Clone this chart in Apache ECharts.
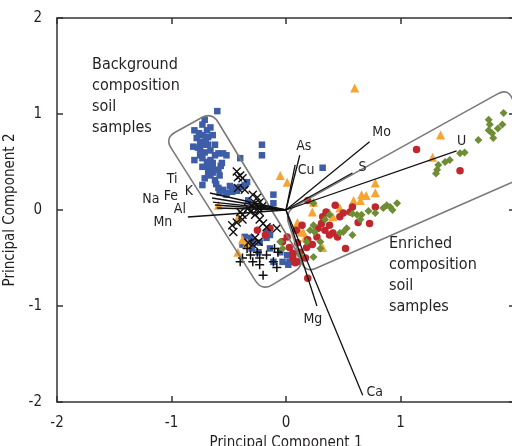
<!DOCTYPE html>
<html>
<head>
<meta charset="utf-8">
<script src="https://cdn.jsdelivr.net/npm/echarts@6/dist/echarts.min.js"></script>
<style>html,body{margin:0;padding:0;background:#fff}#c{width:512px;height:446px}</style>
</head>
<body>
<div id="c"></div>
<script>
// ---- data ----
const xTicks = [-2, -1, 0, 1, 2];
const yTicks = [-2, -1, 0, 1, 2];

const blueSquares = [
[-0.60,1.03],[-0.73,0.89],[-0.69,0.83],[-0.73,0.78],[-0.68,0.76],[-0.64,0.78],[-0.78,0.75],[-0.75,0.71],[-0.81,0.66],[-0.77,0.65],
[-0.73,0.68],[-0.68,0.68],[-0.59,0.59],[-0.55,0.59],[-0.52,0.57],[-0.75,0.57],[-0.73,0.54],[-0.69,0.50],[-0.66,0.52],[-0.64,0.49],
[-0.73,0.45],[-0.68,0.45],[-0.64,0.44],[-0.59,0.42],[-0.58,0.36],[-0.64,0.39],[-0.68,0.39],[-0.66,0.36],[-0.40,0.54],[-0.21,0.68],
[-0.21,0.57],[-0.73,0.26],[-0.59,0.23],[-0.55,0.21],[-0.52,0.18],[-0.47,0.19],[-0.45,0.23],[-0.40,0.24],[-0.36,0.26],[-0.34,0.29],
[-0.52,0.16],[-0.58,0.18],[-0.11,0.16],[-0.11,0.07],[-0.33,0.10],[-0.36,-0.28],[-0.31,-0.29],[-0.29,-0.33],[-0.23,-0.34],[-0.30,-0.40],
[-0.24,-0.44],[-0.17,-0.29],[-0.38,-0.36],[-0.05,-0.44],[0.01,-0.47],[0.03,-0.54],[-0.03,-0.54],[-0.11,-0.54],[-0.14,-0.40],[-0.17,-0.23],
[-0.14,-0.26],[0.02,-0.57],[0.32,0.44],[-0.80,0.83],[-0.71,0.94],[-0.66,0.86],[-0.62,0.68],[-0.75,0.63],[-0.62,0.57],[-0.80,0.52],
[-0.56,0.49],[-0.71,0.33],[-0.62,0.31],[-0.70,0.72],[-0.76,0.80],[-0.66,0.62],[-0.71,0.60],[-0.57,0.46],[-0.61,0.27],[-0.49,0.25],
[-0.43,0.20]
];
const orangeTriangles = [
[0.60,1.27],[-0.05,0.36],[0.01,0.29],[1.35,0.78],[1.28,0.55],[0.78,0.28],[0.78,0.18],[0.66,0.16],[0.70,0.15],[0.65,0.10],
[0.59,0.10],[0.24,0.08],[0.23,-0.02],[0.10,-0.13],[0.15,-0.23],[0.32,-0.39],[-0.38,-0.31],[-0.42,-0.44],[-0.34,-0.34],[-0.59,0.05],
[-0.42,-0.08],[0.12,-0.23],[0.17,-0.28],[0.38,-0.03],[0.41,-0.07],[0.47,0.02]
];
const redCircles = [
[1.14,0.63],[1.52,0.41],[0.78,0.03],[0.63,-0.13],[0.73,-0.14],[0.52,-0.40],[0.19,0.10],[0.19,-0.71],[0.47,-0.07],[0.50,-0.03],
[0.56,-0.02],[0.58,0.03],[0.32,-0.07],[0.28,-0.19],[0.31,-0.14],[0.34,-0.21],[0.38,-0.16],[0.38,-0.26],[0.41,-0.24],[0.45,-0.28],
[0.27,-0.28],[0.19,-0.31],[0.23,-0.36],[0.18,-0.39],[0.12,-0.44],[0.06,-0.45],[0.03,-0.39],[0.01,-0.28],[-0.03,-0.33],[0.10,-0.34],
[0.06,-0.50],[0.08,-0.55],[-0.25,-0.21],[-0.18,-0.26],[-0.14,-0.19],[0.35,-0.02],[0.43,0.05],[0.14,-0.16],[0.09,-0.21],[0.17,-0.50],
[0.10,-0.54]
];
const greenDiamonds = [
[1.52,0.59],[1.56,0.60],[1.43,0.52],[1.39,0.50],[1.33,0.47],[1.32,0.42],[1.31,0.38],[1.68,0.73],[1.77,0.94],[1.78,0.89],
[1.77,0.83],[1.80,0.80],[1.81,0.75],[1.85,0.85],[1.89,0.89],[1.90,1.01],[0.97,0.07],[0.91,0.03],[0.88,0.05],[0.93,0.00],
[0.85,0.02],[0.72,-0.01],[0.66,-0.05],[0.62,-0.05],[0.58,-0.04],[0.65,-0.10],[0.53,-0.19],[0.50,-0.23],[0.47,-0.24],[0.34,-0.10],
[0.24,-0.16],[0.21,-0.21],[0.25,-0.23],[0.18,-0.33],[0.30,-0.33],[0.30,-0.40],[0.12,-0.47],[0.24,-0.49],[-0.05,-0.33],[-0.03,-0.40],
[0.58,-0.26],[0.24,0.07],[0.38,-0.05],[0.78,-0.03]
];
const blackCrosses = [
[-0.43,0.40],[-0.40,0.36],[-0.42,0.34],[-0.38,0.33],[-0.29,0.16],[-0.25,0.13],[-0.27,0.07],[-0.23,0.08],[-0.30,0.05],[-0.33,0.02],
[-0.24,0.02],[-0.20,0.05],[-0.40,-0.02],[-0.38,-0.05],[-0.31,-0.02],[-0.27,-0.05],[-0.23,-0.02],[-0.47,-0.16],[-0.43,-0.13],[-0.38,-0.10],
[-0.20,-0.14],[-0.17,-0.18],[-0.23,-0.10],[-0.27,-0.29],[-0.24,-0.33],[-0.33,-0.34],[-0.29,-0.36],[-0.46,-0.23],[-0.08,-0.19],[-0.36,0.21],
[-0.42,0.23]
];
const blackPluses = [
[-0.38,-0.50],[-0.31,-0.47],[-0.25,-0.44],[-0.34,-0.40],[-0.29,-0.54],[-0.23,-0.50],[-0.17,-0.47],[-0.23,-0.57],[-0.11,-0.54],[-0.08,-0.60],
[-0.40,-0.54],[-0.20,-0.68],[-0.10,-0.40],[-0.07,-0.44]
];

// loading vectors (end points in PC units)
const loadNames = ['As','Cu','Mo','S','U','Mg','Ca','K','Ti','Fe','Na','Al','Mn'];
const loadX = [0.12, 0.08, 0.73, 0.58, 1.49, 0.27, 0.67, -0.665, -0.646, -0.639, -0.621, -0.604, -0.857];
const loadY = [0.57, 0.47, 0.71, 0.385, 0.615, -1.00, -1.93, 0.177, 0.125, 0.083, 0.052, 0.021, -0.073];

// enclosing groups (corner points in PC units)
const boxBackground = [[-1.059,0.75],[-0.647,1.021],[0.166,-0.573],[-0.21,-0.844]];
const boxEnriched = [[-0.01,-0.02],[1.94,1.27],[2.22,0.417],[0.166,-0.656]];

// ---- styling ----
const FONT = '"DejaVu Sans Condensed","Liberation Sans Narrow",sans-serif';
const TXT = '#231f20';
const labelOffsets = [[4,-9],[11,5],[12,-9],[10,-6],[5,-10],[-4,13],[12,-3],[-21,-2],[-40,-19],[-42,-6],[-64,-6],[-37,1],[-25,5]];
const loadData = loadNames.map((n, i) => [loadX[i], loadY[i], i]);
const boxes = [boxBackground, boxEnriched];

function roundedPath(pts, r) {
  const n = pts.length;
  let d = '';
  for (let i = 0; i < n; i++) {
    const p = pts[i], a = pts[(i - 1 + n) % n], b = pts[(i + 1) % n];
    const ua = [a[0]-p[0], a[1]-p[1]], ub = [b[0]-p[0], b[1]-p[1]];
    const la = Math.hypot(ua[0], ua[1]), lb = Math.hypot(ub[0], ub[1]);
    const A = [p[0] + ua[0]/la*r, p[1] + ua[1]/la*r];
    const B = [p[0] + ub[0]/lb*r, p[1] + ub[1]/lb*r];
    d += (i === 0 ? 'M' : 'L') + A[0].toFixed(2) + ' ' + A[1].toFixed(2) +
         'Q' + p[0].toFixed(2) + ' ' + p[1].toFixed(2) + ' ' + B[0].toFixed(2) + ' ' + B[1].toFixed(2);
  }
  return d + 'Z';
}

const chart = echarts.init(document.getElementById('c'), null, {renderer: 'canvas'});
const axisLineStyle = {color: '#333', width: 1.5};
const tickLabel = {color: TXT, fontFamily: FONT, fontSize: 15};
const nameStyle = {color: TXT, fontFamily: FONT, fontSize: 15};

chart.setOption({
  animation: false,
  grid: {left: 57, right: -3, top: 18, bottom: 44, containLabel: false, outerBoundsMode: 'none'},
  xAxis: [
    {type: 'value', min: xTicks[0], max: xTicks[xTicks.length-1], interval: 1, position: 'bottom',
     axisLine: {onZero: false, lineStyle: axisLineStyle}, axisTick: {inside: true, length: 6, lineStyle: axisLineStyle},
     splitLine: {show: false}, axisLabel: Object.assign({margin: 14, showMaxLabel: false}, tickLabel),
     name: 'Principal Component 1', nameLocation: 'middle', nameGap: 29, nameTextStyle: nameStyle},
    {type: 'value', min: xTicks[0], max: xTicks[xTicks.length-1], interval: 1, position: 'top',
     axisLine: {onZero: false, lineStyle: axisLineStyle}, axisTick: {inside: true, length: 6, lineStyle: axisLineStyle},
     splitLine: {show: false}, axisLabel: {show: false}}
  ],
  yAxis: [
    {type: 'value', min: yTicks[0], max: yTicks[yTicks.length-1], interval: 1, position: 'left',
     axisLine: {onZero: false, lineStyle: axisLineStyle}, axisTick: {inside: true, length: 6, lineStyle: axisLineStyle},
     splitLine: {show: false}, axisLabel: Object.assign({margin: 15}, tickLabel),
     name: 'Principal Component 2', nameLocation: 'middle', nameGap: 31, nameTextStyle: nameStyle},
    {type: 'value', min: yTicks[0], max: yTicks[yTicks.length-1], interval: 1, position: 'right',
     axisLine: {onZero: false, lineStyle: axisLineStyle}, axisTick: {inside: true, length: 6, lineStyle: axisLineStyle},
     splitLine: {show: false}, axisLabel: {show: false}}
  ],
  series: [
    {type: 'scatter', name: 'blue', data: blueSquares, symbol: 'rect', symbolSize: 6.5,
     itemStyle: {color: '#3e5da8', opacity: 1}, z: 2},
    {type: 'scatter', name: 'orange', data: orangeTriangles, symbol: 'triangle', symbolSize: 9,
     itemStyle: {color: '#f6a432', opacity: 1}, z: 2},
    {type: 'scatter', name: 'red', data: redCircles, symbol: 'circle', symbolSize: 7.5,
     itemStyle: {color: '#c0262d', opacity: 1}, z: 2},
    {type: 'scatter', name: 'green', data: greenDiamonds, symbol: 'diamond', symbolSize: 8,
     itemStyle: {color: '#6e8d34', opacity: 1}, z: 2},
    {type: 'scatter', name: 'cross', data: blackCrosses, symbol: 'path://M0,0L10,10M10,0L0,10', symbolSize: 8,
     itemStyle: {color: 'transparent', borderColor: '#111', borderWidth: 1.4, opacity: 1}, z: 3},
    {type: 'scatter', name: 'plus', data: blackPluses, symbol: 'path://M5,0L5,10M0,5L10,5', symbolSize: 9,
     itemStyle: {color: 'transparent', borderColor: '#111', borderWidth: 1.5, opacity: 1}, z: 3},
    {type: 'custom', name: 'boxes', data: boxes.map((b, i) => [b[0][0], b[0][1], i]), z: 4, silent: true,
     renderItem: function (params, api) {
       const pts = boxes[params.dataIndex].map(p => api.coord(p));
       return {type: 'path', shape: {pathData: roundedPath(pts, 12)},
               style: {fill: 'none', stroke: '#7a7a7a', lineWidth: 1.6}};
     }},
    {type: 'custom', name: 'loadings', data: loadData, z: 5, silent: true,
     renderItem: function (params, api) {
       const i = params.dataIndex;
       const o = api.coord([0, 0]);
       const e = api.coord([api.value(0), api.value(1)]);
       const off = labelOffsets[i];
       return {type: 'group', children: [
         {type: 'line', shape: {x1: o[0], y1: o[1], x2: e[0], y2: e[1]}, style: {stroke: '#111', lineWidth: 1.3}},
         {type: 'text', style: {text: loadNames[i], x: e[0] + off[0], y: e[1] + off[1], align: 'center', verticalAlign: 'middle',
           font: '14px ' + FONT, fill: TXT}}
       ]};
     }}
  ],
  graphic: [
    {type: 'text', left: 92, top: 54, style: {text: 'Background\ncomposition\nsoil\nsamples', font: '16px ' + FONT, fill: TXT, lineHeight: 21}},
    {type: 'text', left: 389, top: 233, style: {text: 'Enriched\ncomposition\nsoil\nsamples', font: '16px ' + FONT, fill: TXT, lineHeight: 21}}
  ]
});
</script>
</body>
</html>
